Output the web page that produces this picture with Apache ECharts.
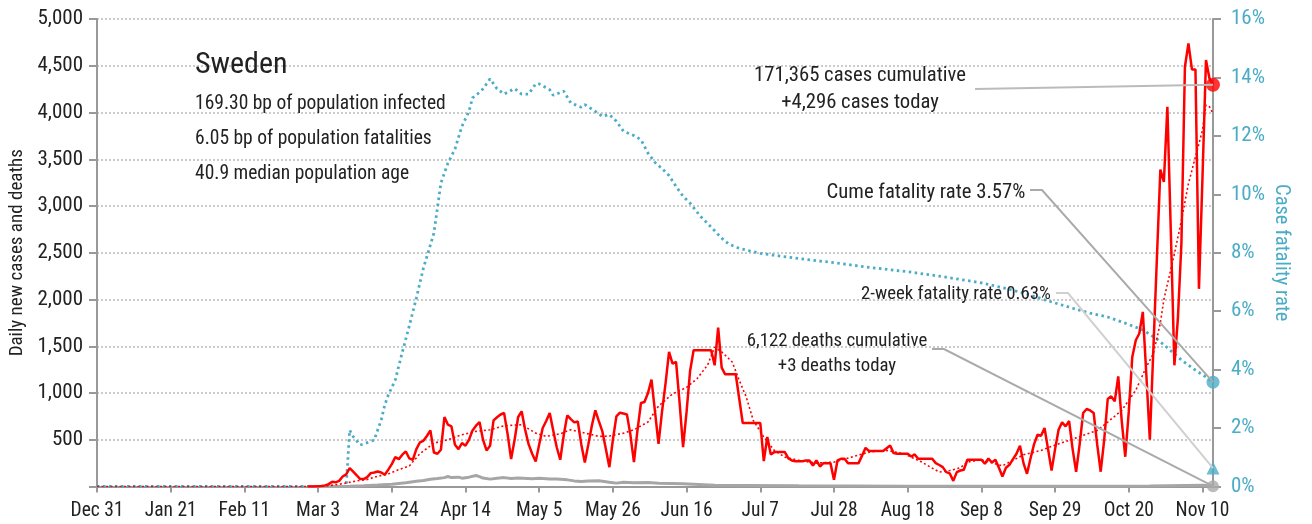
<!DOCTYPE html>
<html><head><meta charset="utf-8">
<script src="https://cdn.jsdelivr.net/npm/echarts@6/dist/echarts.min.js"></script>
<style>html,body{margin:0;padding:0;background:#fff}#c{width:1312px;height:524px}</style>
</head><body><div id="c"></div>
<script>
// Day index 0 = 2019-12-31
const tickDays = [0,21,42,63,84,105,126,147,168,189,210,231,252,273,294,315];
const lastDay = 318;

// Daily new cases [day, cases]
const dailyCases = [[60,0],[62,1],[63,3],[64,5],[65,12],[66,25],[67,50],[68,45],[69,60],[70,107],[71,130],[72,196],[73,160],[74,120],[75,79],[76,79],[77,100],[78,143],[79,150],[80,160],[81,150],[82,125],[83,180],[84,240],[85,314],[86,293],[87,340],[88,375],[89,300],[90,286],[91,400],[92,471],[93,489],[94,540],[95,600],[96,364],[97,350],[98,393],[99,743],[100,661],[101,643],[102,446],[103,400],[104,464],[105,436],[106,500],[107,600],[108,650],[109,689],[110,500],[111,386],[112,436],[113,707],[114,740],[115,770],[116,786],[117,560],[118,293],[119,500],[120,743],[121,804],[122,607],[123,450],[124,350],[125,268],[126,450],[127,625],[128,700],[129,786],[130,600],[131,420],[132,286],[133,550],[134,761],[135,720],[136,686],[137,696],[138,450],[139,257],[140,450],[141,650],[142,814],[143,700],[144,589],[145,400],[146,207],[147,500],[148,750],[149,789],[150,780],[151,771],[152,550],[153,261],[154,600],[155,893],[156,904],[157,1000],[158,1143],[159,800],[160,457],[161,800],[162,1100],[163,1439],[164,1314],[165,1332],[166,900],[167,421],[168,800],[169,1236],[170,1457],[171,1457],[172,1457],[173,1457],[174,1457],[175,1457],[176,1296],[177,1700],[178,1271],[179,1200],[180,1200],[181,1200],[182,1200],[184,679],[185,679],[186,679],[187,679],[188,679],[189,679],[190,271],[191,529],[192,343],[193,368],[194,368],[195,368],[196,368],[197,300],[198,279],[199,271],[200,271],[201,271],[202,279],[203,279],[204,225],[205,279],[206,214],[207,250],[208,250],[209,250],[210,71],[211,279],[212,296],[213,296],[214,250],[215,250],[216,250],[217,250],[218,330],[219,414],[220,379],[221,379],[222,379],[223,379],[224,379],[225,410],[226,439],[227,357],[228,350],[229,350],[230,350],[231,350],[232,321],[233,343],[234,296],[235,296],[236,296],[237,296],[238,296],[239,250],[240,230],[241,207],[242,154],[243,140],[244,60],[245,154],[246,171],[247,179],[248,286],[249,286],[250,286],[251,286],[252,286],[253,243],[254,300],[255,257],[256,286],[257,200],[258,107],[259,200],[260,232],[261,293],[262,350],[263,436],[264,250],[265,136],[266,300],[267,450],[268,554],[269,543],[270,625],[271,400],[272,170],[273,400],[274,607],[275,686],[276,643],[277,700],[278,400],[279,158],[280,450],[281,786],[282,829],[283,814],[284,786],[285,450],[286,158],[287,500],[288,936],[289,964],[290,911],[291,1178],[292,700],[293,318],[294,800],[295,1386],[296,1564],[297,1636],[298,1868],[299,1200],[300,500],[301,1460],[302,2430],[303,3389],[304,3257],[305,4061],[306,2700],[307,1296],[308,1800],[309,2600],[310,4489],[311,4739],[312,4461],[313,4461],[314,2114],[315,3300],[316,4561],[317,4364],[318,4296]];

// 7-day average of cases [day, cases]
const casesAvg = [[0,0],[63,0],[66,8],[70,30],[74,60],[77,75],[80,110],[83,135],[86,180],[89,220],[92,350],[96,464],[100,500],[104,554],[108,590],[112,607],[116,650],[121,661],[125,571],[128,536],[132,564],[135,607],[139,571],[143,536],[146,540],[150,570],[153,607],[157,690],[160,860],[164,990],[168,1060],[171,1154],[174,1300],[176,1490],[178,1440],[181,1332],[183,1136],[185,957],[187,707],[190,529],[193,386],[196,314],[200,279],[205,250],[210,261],[215,314],[220,368],[225,386],[230,350],[235,261],[240,154],[243,171],[246,200],[248,261],[252,286],[258,221],[264,339],[269,386],[272,429],[279,520],[285,600],[288,689],[292,814],[296,1029],[299,1279],[301,1421],[303,1750],[304,2000],[307,2489],[309,2846],[311,3239],[313,3525],[315,3811],[316,4079],[317,4061],[318,3989]];

// Daily deaths [day, deaths]
const dailyDeaths = [[60,0],[68,1],[72,3],[76,8],[80,15],[84,25],[88,40],[91,55],[93,65],[95,78],[97,85],[99,95],[100,107],[101,95],[103,100],[104,89],[106,100],[108,118],[109,105],[110,90],[112,79],[114,89],[116,95],[118,85],[120,90],[124,82],[126,88],[129,79],[131,80],[134,71],[136,60],[138,54],[140,58],[143,61],[146,45],[148,36],[150,45],[153,40],[157,43],[160,35],[164,32],[167,29],[170,25],[176,14],[185,12],[200,8],[230,4],[260,3],[290,4],[300,6],[310,12],[315,14],[318,3]];

// Cumulative case fatality rate, % [day, pct]
const cfr = [[0,0],[71,0],[72,1.93],[73,1.71],[75,1.42],[77,1.5],[79,1.59],[80,1.94],[81,2.28],[82,2.79],[83,3.13],[85,3.65],[87,4.6],[89,5.5],[91,6.45],[93,7.47],[96,8.67],[98,10.39],[100,11.07],[102,11.55],[104,12.33],[106,12.84],[107,13.3],[109,13.49],[110,13.61],[112,13.95],[114,13.61],[116,13.43],[119,13.62],[121,13.43],[123,13.43],[125,13.78],[126,13.78],[129,13.58],[130,13.39],[133,13.53],[135,13.13],[138,12.98],[139,13.07],[142,12.84],[144,12.67],[146,12.73],[148,12.5],[150,12.16],[153,12.01],[155,11.87],[157,11.41],[159,11.09],[161,10.88],[163,10.64],[165,10.27],[167,9.93],[169,9.7],[172,9.24],[174,9.0],[176,8.75],[178,8.5],[180,8.3],[183,8.15],[189,7.98],[200,7.8],[210,7.66],[220,7.5],[231,7.35],[240,7.2],[252,6.97],[260,6.75],[266,6.55],[270,6.39],[278,6.1],[283,5.93],[288,5.8],[293,5.59],[298,5.36],[302,5.05],[305,4.75],[309,4.33],[313,3.98],[316,3.75],[318,3.57]];

const twoWeekRate = 0.63;
const casesToday = 4296, deathsToday = 3, cfrToday = 3.57;

const infoLines = ['169.30 bp of population infected','6.05 bp of population fatalities','40.9 median population age'];
const caseNote = ['171,365 cases cumulative','+4,296 cases today'];
const deathNote = ['6,122 deaths cumulative','+3 deaths today'];
const cfrNote = 'Cume fatality rate 3.57%';
const twoWeekNote = '2-week fatality rate 0.63%';

const FONT = "'Roboto Condensed','Liberation Sans Narrow','DejaVu Sans Condensed','Arial Narrow',sans-serif";
const TEAL = '#4bacc6';
const MONTHS = ['Jan','Feb','Mar','Apr','May','Jun','Jul','Aug','Sep','Oct','Nov','Dec'];
const base = Date.UTC(2019,11,31);
function dayLabel(d){ const t = new Date(base + d*86400000); return MONTHS[t.getUTCMonth()] + ' ' + t.getUTCDate(); }

const chart = echarts.init(document.getElementById('c'), null, {renderer:'canvas'});
chart.setOption({
  animation:false,
  textStyle:{fontFamily:FONT},
  grid:{left:95,right:99,top:19,bottom:37.5,containLabel:false},
  xAxis:{type:'value',min:0,max:lastDay,interval:21,
    axisLine:{lineStyle:{color:'#999',width:2}},
    axisTick:{customValues:tickDays,length:6,lineStyle:{color:'#999',width:2}},
    axisLabel:{customValues:tickDays,formatter:dayLabel,color:'#222',fontSize:19.5,margin:15,fontFamily:FONT},
    splitLine:{show:false}},
  yAxis:[
    {type:'value',min:0,max:5000,interval:500,position:'left',
     axisLine:{show:true,lineStyle:{color:'#999',width:2}},
     axisTick:{show:true,length:8,lineStyle:{color:'#999',width:2}},
     axisLabel:{formatter:v=>v===0?'':v.toLocaleString('en-US'),color:'#222',fontSize:21,margin:14,fontFamily:FONT},
     splitLine:{lineStyle:{type:[2,2],color:'#bbb',width:1.5}},
     name:'Daily new cases and deaths',nameLocation:'middle',nameGap:70,nameMoveOverlap:false,
     nameTextStyle:{fontSize:19,color:'#222',fontFamily:FONT}},
    {type:'value',min:0,max:16,interval:2,position:'right',
     axisLine:{show:true,lineStyle:{color:'#999',width:2}},
     axisTick:{show:true,length:8,lineStyle:{color:'#999',width:2}},
     axisLabel:{formatter:'{value}%',color:TEAL,fontSize:21,margin:18,fontFamily:FONT},
     splitLine:{show:false},
     name:'Case fatality rate',nameLocation:'middle',nameRotate:-90,nameGap:58,nameMoveOverlap:false,
     nameTextStyle:{fontSize:20.5,color:TEAL,fontFamily:FONT}}
  ],
  series:[
    {name:'cfr',type:'line',yAxisIndex:1,data:cfr,symbol:'none',
     lineStyle:{color:TEAL,width:2.8,type:[2.5,3.5]}},
    {name:'deaths',type:'line',data:dailyDeaths,symbol:'none',
     lineStyle:{color:'#a6a6a6',width:3}},
    {name:'avg',type:'line',data:casesAvg,symbol:'none',
     lineStyle:{color:'#ff0000',width:1.6,type:[2,2.5]}},
    {name:'cases',type:'line',data:dailyCases,symbol:'none',
     lineStyle:{color:'#ff0000',width:2.5}},
    {type:'scatter',yAxisIndex:1,clip:false,symbol:'circle',symbolSize:13,
     itemStyle:{color:TEAL},data:[[lastDay,cfrToday]]},
    {type:'scatter',yAxisIndex:1,clip:false,symbol:'triangle',symbolSize:13,
     itemStyle:{color:TEAL},data:[[lastDay,twoWeekRate]]},
    {type:'scatter',clip:false,symbol:'circle',symbolSize:12,
     itemStyle:{color:'#aaaaaa'},data:[[lastDay,deathsToday]]},
    {type:'scatter',clip:false,symbol:'circle',symbolSize:14,
     itemStyle:{color:'#ff0000'},data:[[lastDay,casesToday]]}
  ]
});

const pL = v => chart.convertToPixel({xAxisIndex:0,yAxisIndex:0},[lastDay,v]);
const pR = v => chart.convertToPixel({xAxisIndex:0,yAxisIndex:1},[lastDay,v]);
const pc = pL(casesToday), pd = pL(deathsToday), pf = pR(cfrToday), pt = pR(twoWeekRate);

function txt(s,x,y,size,align){
  return {type:'text',z:100,style:{text:s,x:x,y:y,fill:'#222',font:size+'px '+FONT,textAlign:align||'left',textVerticalAlign:'middle'}};
}
function line(pts,color){
  return {type:'polyline',z:90,shape:{points:pts},style:{stroke:color,lineWidth:2,fill:null}};
}
chart.setOption({graphic:[
  txt('Sweden',195,65,30,'left'),
  txt(infoLines[0],195,104,19.5),
  txt(infoLines[1],195,139,19.5),
  txt(infoLines[2],195,174,19.5),
  txt(caseNote[0],860,76,20.7,'center'),
  txt(caseNote[1],860,103,20.7,'center'),
  txt(cfrNote,926,193,20.7,'center'),
  txt(twoWeekNote,956,294,18.8,'center'),
  txt(deathNote[0],837,341,18.8,'center'),
  txt(deathNote[1],837,366,18.8,'center'),
  line([[975,89],pc],'#bbbbbb'),
  line([[1030,190],[1042,190],pf],'#aaaaaa'),
  line([[1056,293],[1068,293],pt],'#d0d0d0'),
  line([[932,349],[944,349],pd],'#aaaaaa')
]});
</script></body></html>
